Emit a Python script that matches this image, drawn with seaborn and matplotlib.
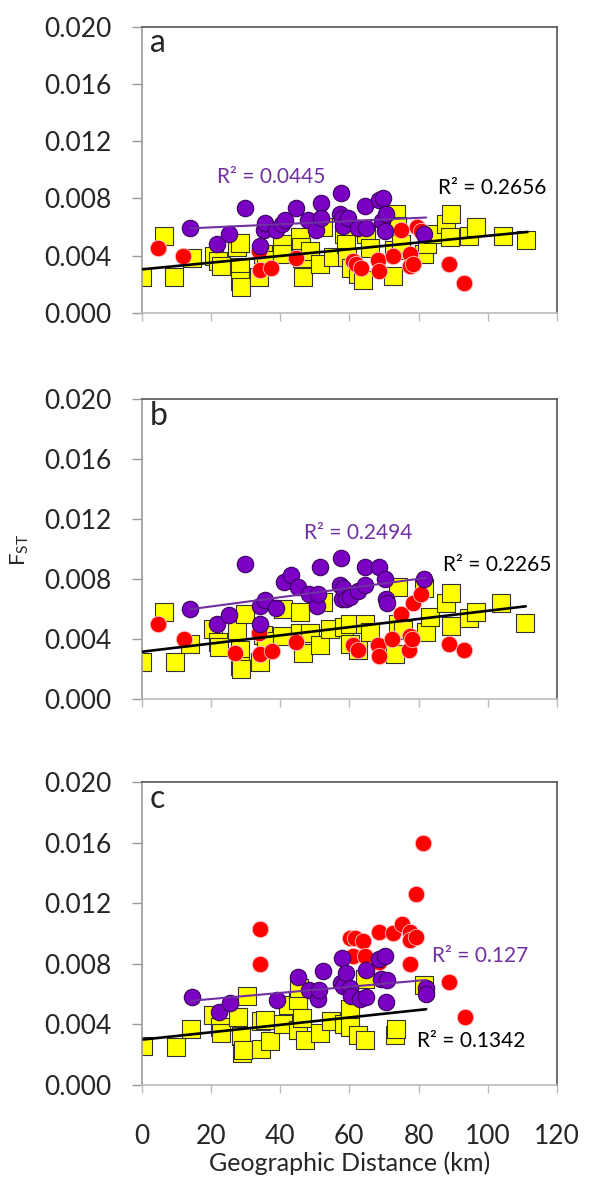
import numpy as np
import matplotlib
matplotlib.use("Agg")
import matplotlib.pyplot as plt
from matplotlib.ticker import FormatStrFormatter
import seaborn as sns

sns.set_style("white")
plt.rcParams['font.family'] = ['Lato', 'DejaVu Sans']

# ---- panel a ----
yel_x_a = [0, 6.5, 9.3, 14.4, 20.8, 22.0, 22.8, 27.4, 28.5, 28.4, 28.5, 28.8, 34.0, 35.0, 36.0,
           40.4, 40.6, 45.7, 45.9, 46.2, 46.6, 48.5, 51.4, 52.5, 55.3, 58.5, 59.1, 59.4, 60.5,
           62.5, 63.9, 64.9, 66.0, 72.6, 73.0, 73.5, 73.7, 75.0, 81.7, 82.5, 84.1, 88.0, 89.4,
           89.0, 94.7, 96.6, 104.3, 111.0]
yel_y_a = [0.0025, 0.0054, 0.0025, 0.0038, 0.0040, 0.0036, 0.0033, 0.0046, 0.0049, 0.0032, 0.0022,
           0.0018, 0.0025, 0.0041, 0.0037, 0.0048, 0.0041, 0.0053, 0.0046, 0.0038, 0.0025, 0.0043,
           0.0034, 0.0060, 0.0039, 0.0055, 0.0048, 0.0039, 0.0031, 0.0027, 0.0023, 0.0055, 0.0045,
           0.0026, 0.0044, 0.0069, 0.0061, 0.0048, 0.0041, 0.0048, 0.0055, 0.0062, 0.0069, 0.0053,
           0.0054, 0.0060, 0.0054, 0.0051]
pur_x_a = [13.9, 21.8, 25.3, 29.8, 34.1, 35.2, 35.6, 38.7, 40.5, 41.3, 44.7, 48.1, 50.5, 51.9, 51.9,
           57.2, 57.7, 58.0, 58.3, 59.6, 62.5, 64.4, 64.8, 68.7, 69.4, 69.7, 70.2, 70.7, 81.7]
pur_y_a = [0.0059, 0.0048, 0.0055, 0.0073, 0.0047, 0.0058, 0.0063, 0.0058, 0.0062, 0.0065, 0.0073,
           0.0065, 0.0058, 0.0077, 0.0066, 0.0069, 0.0084, 0.0066, 0.0061, 0.0066, 0.0059, 0.0075,
           0.0059, 0.0079, 0.0064, 0.0080, 0.0057, 0.0069, 0.0055]
red_x_a = [4.8, 12.0, 33.9, 34.1, 37.5, 44.7, 61.0, 62.0, 63.5, 68.2, 68.5, 72.6, 75.0, 77.4, 77.4,
           78.3, 79.5, 80.8, 88.7, 93.0]
red_y_a = [0.0045, 0.0040, 0.0043, 0.0030, 0.0031, 0.0038, 0.0036, 0.0034, 0.0031, 0.0037, 0.0029,
           0.0040, 0.0058, 0.0041, 0.0033, 0.0034, 0.0060, 0.0057, 0.0034, 0.0021]

# ---- panel b ----
yel_x_b = [0, 6.5, 9.6, 13.9, 20.7, 22.1, 22.4, 27.4, 29.8, 28.4, 28.4, 28.8, 34.1, 35.1, 36.0,
           40.4, 40.9, 45.7, 45.7, 46.6, 48.5, 51.4, 52.4, 54.3, 58.5, 60.1, 60.2, 62.6, 64.4,
           66.0, 73.1, 74.0, 74.0, 75.5, 81.7, 82.2, 83.2, 88.0, 89.4, 89.4, 94.7, 96.6, 103.8,
           110.8]
yel_y_b = [0.0025, 0.0058, 0.0025, 0.0037, 0.0047, 0.0038, 0.0035, 0.0046, 0.0057, 0.0033, 0.0022,
           0.0020, 0.0025, 0.0043, 0.0039, 0.0042, 0.0060, 0.0058, 0.0044, 0.0031, 0.0044, 0.0036,
           0.0065, 0.0047, 0.0048, 0.0050, 0.0037, 0.0033, 0.0050, 0.0045, 0.0030, 0.0075, 0.0050,
           0.0046, 0.0074, 0.0045, 0.0055, 0.0064, 0.0071, 0.0049, 0.0054, 0.0058, 0.0064, 0.0051]
pur_x_b = [13.9, 21.8, 25.3, 29.8, 34.1, 34.2, 35.6, 38.9, 41.1, 43.0, 45.2, 48.3, 50.8, 51.0, 51.4,
           57.4, 57.7, 58.0, 58.2, 59.1, 60.3, 62.5, 64.4, 64.4, 68.7, 70.2, 70.7, 71.0, 81.7]
pur_y_b = [0.0060, 0.0050, 0.0056, 0.0090, 0.0050, 0.0062, 0.0066, 0.0061, 0.0078, 0.0083, 0.0075,
           0.0070, 0.0062, 0.0070, 0.0088, 0.0076, 0.0094, 0.0067, 0.0074, 0.0067, 0.0068, 0.0072,
           0.0088, 0.0076, 0.0088, 0.0080, 0.0067, 0.0064, 0.0080]
red_x_b = [4.8, 12.2, 26.9, 33.8, 34.1, 37.7, 44.7, 61.0, 62.4, 68.3, 68.5, 72.4, 75.0, 77.2, 77.4,
           78.0, 78.5, 80.8, 88.7, 93.0]
red_y_b = [0.0050, 0.0040, 0.0031, 0.0044, 0.0030, 0.0032, 0.0038, 0.0036, 0.0033, 0.0036, 0.0029,
           0.0040, 0.0057, 0.0033, 0.0042, 0.0040, 0.0064, 0.0070, 0.0037, 0.0033]

# ---- panel c ----
yel_x_c = [0.5, 9.9, 14.2, 20.7, 22.6, 22.9, 27.9, 30.3, 28.8, 29.1, 29.4, 34.6, 34.6, 35.5, 37.0,
           40.8, 42.3, 45.2, 45.4, 45.2, 46.3, 47.1, 51.4, 54.8, 58.5, 60.1, 60.1, 62.5, 64.4,
           64.4, 73.1, 73.6, 81.7]
yel_y_c = [0.0026, 0.0025, 0.0037, 0.0046, 0.0038, 0.0034, 0.0045, 0.0059, 0.0032, 0.0021, 0.0023,
           0.0042, 0.0024, 0.0043, 0.0029, 0.0040, 0.0053, 0.0056, 0.0064, 0.0036, 0.0044, 0.0030,
           0.0034, 0.0042, 0.0040, 0.0050, 0.0038, 0.0033, 0.0030, 0.0070, 0.0033, 0.0037, 0.0066]
pur_x_c = [14.4, 22.4, 25.5, 39.1, 45.2, 48.3, 50.9, 51.2, 52.4, 57.7, 58.0, 58.1, 59.1, 60.1, 60.6,
           63.0, 64.9, 64.9, 68.7, 69.2, 70.2, 70.7, 70.8, 82.2, 82.2]
pur_y_c = [0.0058, 0.0048, 0.0054, 0.0056, 0.0071, 0.0063, 0.0057, 0.0063, 0.0075, 0.0067, 0.0084,
           0.0065, 0.0074, 0.0064, 0.0059, 0.0057, 0.0076, 0.0058, 0.0083, 0.0070, 0.0085, 0.0055,
           0.0069, 0.0064, 0.0060]
red_x_c = [34.1, 34.3, 60.1, 61.0, 61.5, 63.9, 64.4, 68.5, 68.7, 72.6, 75.3, 77.4, 77.4, 77.4, 79.3,
           79.3, 81.2, 88.9, 93.3]
red_y_c = [0.0103, 0.0080, 0.0097, 0.0085, 0.0097, 0.0095, 0.0085, 0.0101, 0.0081, 0.0100, 0.0106,
           0.0101, 0.0096, 0.0080, 0.0098, 0.0126, 0.0160, 0.0068, 0.0045]

# trend lines (end points)
blk_line = {"a": ([0, 111.5], [0.00303, 0.00565]),
            "b": ([0, 111.0], [0.00317, 0.00620]),
            "c": ([0.5, 82.2], [0.00300, 0.00500])}
pur_line = {"a": ([13.9, 82.2], [0.00590, 0.00666]),
            "b": ([13.9, 82.2], [0.00600, 0.00810]),
            "c": ([14.4, 82.2], [0.00556, 0.00693])}
r2_pur = {"a": "R² = 0.0445", "b": "R² = 0.2494", "c": "R² = 0.127"}
r2_blk = {"a": "R² = 0.2656", "b": "R² = 0.2265", "c": "R² = 0.1342"}
r2_pur_pos = {"a": (37.4, 0.00949), "b": (62.5, 0.01109), "c": (97.9, 0.00851)}
r2_blk_pos = {"a": (101.3, 0.00870), "b": (102.8, 0.00895), "c": (95.3, 0.00292)}

panels = {
    "a": (yel_x_a, yel_y_a, pur_x_a, pur_y_a, red_x_a, red_y_a),
    "b": (yel_x_b, yel_y_b, pur_x_b, pur_y_b, red_x_b, red_y_b),
    "c": (yel_x_c, yel_y_c, pur_x_c, pur_y_c, red_x_c, red_y_c),
}

YEL = "#FFFF00"
PUR = "#7B00C4"
PUR_LINE = "#7030A0"
RED = "#FF0000"

fig = plt.figure(figsize=(6, 11.97), dpi=100)
# [left, bottom, width, height] in figure fraction
boxes = {"a": [0.2362, 0.7388, 0.692, 0.2387],
         "b": [0.2362, 0.4158, 0.692, 0.2506],
         "c": [0.2362, 0.0936, 0.692, 0.2531]}

for key, (yx, yy, px, py, rx, ry) in panels.items():
    ax = fig.add_axes(boxes[key])
    sns.scatterplot(x=yx, y=yy, ax=ax, marker="s", s=150, color=YEL,
                    edgecolor="#333333", linewidth=0.8, zorder=2)
    sns.scatterplot(x=rx, y=ry, ax=ax, marker="o", s=140, color=RED,
                    edgecolor="#FFC8C8", linewidth=0.6, zorder=3)
    sns.scatterplot(x=px, y=py, ax=ax, marker="o", s=140, color=PUR,
                    edgecolor="#3A005E", linewidth=0.8, zorder=4)
    lx, ly = blk_line[key]
    ax.plot(lx, ly, color="black", lw=1.9, zorder=5)
    lx, ly = pur_line[key]
    ax.plot(lx, ly, color=PUR_LINE, lw=1.5, zorder=5)

    ax.text(*r2_pur_pos[key], r2_pur[key], color=PUR_LINE, fontsize=15,
            ha="center", va="center", zorder=6)
    ax.text(*r2_blk_pos[key], r2_blk[key], color="black", fontsize=15,
            ha="center", va="center", zorder=6)
    ax.text(0.02, 0.995, key, transform=ax.transAxes, fontsize=23,
            ha="left", va="top")

    ax.set_xlim(0, 120)
    ax.set_ylim(0, 0.020)
    ax.set_xticks(range(0, 121, 20))
    ax.set_yticks(np.arange(0, 0.0201, 0.004))
    ax.yaxis.set_major_formatter(FormatStrFormatter("%.3f"))
    ax.tick_params(axis="y", direction="out", length=7, width=1, color="#999999",
                   labelsize=19, pad=15, left=True)
    ax.tick_params(axis="x", direction="out", length=6, width=1, color="#BBBBBB",
                   labelsize=19, pad=22, bottom=True, labelbottom=(key == "c"))
    for side in ("top", "right"):
        ax.spines[side].set_color("#555555")
        ax.spines[side].set_linewidth(1.2)
    ax.spines["left"].set_color("#999999")
    ax.spines["bottom"].set_color("#BBBBBB")
    ax.spines["left"].set_linewidth(1.2)
    ax.spines["bottom"].set_linewidth(1.2)
    if key == "c":
        ax.set_xlabel("Geographic Distance (km)", fontsize=18, labelpad=2)

fig.text(0.033, 1 - 550 / 1197, r"F$_{\mathregular{ST}}$", rotation=90,
         fontsize=16, ha="center", va="center")

fig.savefig("out.png", dpi=100)
